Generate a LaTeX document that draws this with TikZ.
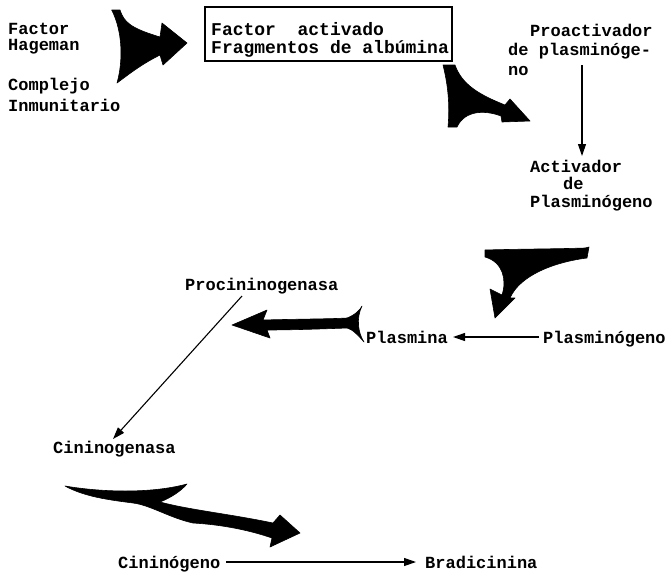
\documentclass[tikz,border=0pt]{standalone}
\usepackage{fontspec}
\newfontfamily\tw{Liberation Mono}
\usetikzlibrary{arrows.meta}
\tikzset{
  lbl/.style={font=\tw\bfseries\fontsize{17}{19}\selectfont, inner sep=0pt, anchor=base west},
  blob/.style={fill=black, draw=black, line width=0.6pt, line join=round},
  thin/.style={draw=black, line width=1.1pt, -{Triangle[length=12pt,width=8pt]}},
}
\begin{document}
\begin{tikzpicture}[x=1pt,y=-1pt]
\useasboundingbox (0,0) rectangle (672,571);
% texts
\node[lbl] (fh1) at (8,34) {Factor};
\node[lbl] (fh2) at (8,50) {Hageman};
\node[lbl] (ci1) at (8,90) {Complejo};
\node[lbl] (ci2) at (8,111) {Inmunitario};
\node[draw, line width=1.3pt, minimum width=247pt, minimum height=54pt, inner sep=0pt] (box) at (328.5,34) {};
\node[lbl, font=\tw\bfseries\fontsize{18}{17}\selectfont] (bx1) at (211,35) {Factor~ activado};
\node[lbl, font=\tw\bfseries\fontsize{18}{17}\selectfont] (bx2) at (211,53) {Fragmentos de albúmina};
\node[lbl] (pa1) at (530,36) {Proactivador};
\node[lbl] (pa2) at (508,55) {de plasminóge-};
\node[lbl] (pa3) at (508,75) {no};
\node[lbl] (ac1) at (530,172) {Activador};
\node[lbl] (ac2) at (563,189) {de};
\node[lbl] (ac3) at (530,207) {Plasminógeno};
\node[lbl] (proc) at (185,290) {Procininogenasa};
\node[lbl] (plas) at (366,343) {Plasmina};
\node[lbl] (plgn) at (543,343) {Plasminógeno};
\node[lbl] (cgsa) at (53,453) {Cininogenasa};
\node[lbl] (cgno) at (118,568) {Cininógeno};
\node[lbl] (brad) at (425,568) {Bradicinina};
% thin connectors
\coordinate (pa-s) at (582,65);
\coordinate (ac-n) at (582,156);
\draw[thin] (pa-s) -- (ac-n);
\draw[thin] ([xshift=-4pt,yshift=6pt]plgn.base west) -- ([xshift=5pt,yshift=6pt]plas.base east);
\coordinate (pr-s) at (242,296);
\coordinate (cg-n) at (113,439);
\draw[thin] (pr-s) -- (cg-n);
\draw[thin] ([xshift=6pt,yshift=6pt]cgno.base east) -- ([xshift=-9pt,yshift=6pt]brad.base west);
% thick arrows
\path[blob] (111.7,10) -- (120,10) .. controls (124,22) and (130,28) .. (160,37) -- (162,23) -- (187,43) -- (163,65) -- (160,55)
  .. controls (140,65) and (128,75) .. (117,83) .. controls (123,62) and (123,32) .. (111.7,10) -- cycle;
\path[blob] (443,65) -- (455,65) .. controls (462,85) and (480,95) .. (505,105) -- (510,99) -- (530,121) -- (502,122) -- (501,116)
  .. controls (485,110) and (465,110) .. (457,127) -- (448,127) .. controls (450,105) and (448,85) .. (443,65) -- cycle;
\path[blob] (485,250) .. controls (520,249) and (555,249) .. (585,248) -- (589,247) -- (587,258)
  .. controls (555,262) and (520,275) .. (510,298) -- (515,298) -- (495,318) -- (490,289) -- (502,295)
  .. controls (507,280) and (503,262) .. (485,257) -- cycle;
\path[blob] (232,325) -- (267,310) -- (263,320) .. controls (300,319) and (330,319) .. (347,318)
  .. controls (355,315) and (360,310) .. (362,306) .. controls (356,318) and (358,333) .. (364,342)
  .. controls (358,335) and (352,329) .. (347,328) .. controls (320,329) and (290,330) .. (267,330) -- (270,338) -- cycle;
\path[blob] (65,486) .. controls (100,492) and (150,494) .. (187,484) .. controls (180,492) and (170,498) .. (160,502)
  .. controls (190,510) and (230,514) .. (273,523) -- (280,515) -- (300,533) -- (270,547) -- (272,538)
  .. controls (240,527) and (210,524) .. (193,523) .. controls (170,518) and (150,505) .. (133,503)
  .. controls (110,500) and (85,497) .. (65,486) -- cycle;
\end{tikzpicture}
\end{document}
